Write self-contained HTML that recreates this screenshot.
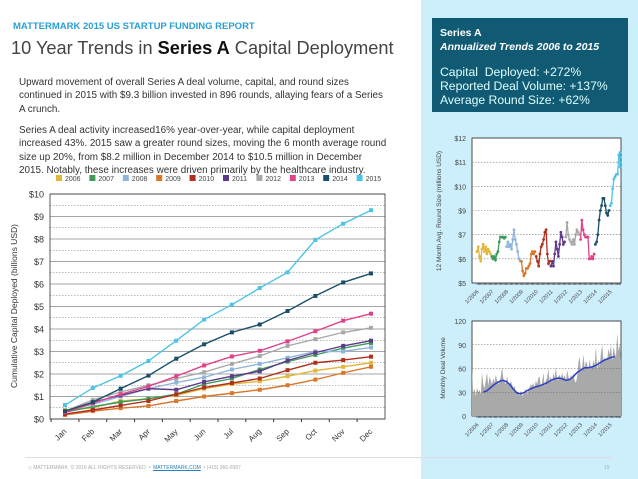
<!DOCTYPE html>
<html><head><meta charset="utf-8"><style>
*{margin:0;padding:0;box-sizing:border-box}
body{width:638px;height:479px;overflow:hidden;background:#fff;font-family:"Liberation Sans",sans-serif;position:relative}
.abs{position:absolute}
p.t{font-size:9.9px;color:#333;line-height:13.4px;white-space:nowrap}
</style></head><body>
<div class="abs" style="left:421px;top:0;width:217px;height:479px;background:#cdeffc"></div>
<div class="abs" style="left:13px;top:21px;font-size:9.5px;font-weight:bold;color:#2a9fd6">MATTERMARK 2015 US STARTUP FUNDING REPORT</div>
<div class="abs" style="left:11px;top:38px;font-size:18.2px;color:#444;white-space:nowrap">10 Year Trends in <b style="color:#111">Series A</b> Capital Deployment</div>
<div class="abs" style="left:19px;top:76px"><p class="t">Upward movement of overall Series A deal volume, capital, and round sizes<br>continued in 2015 with $9.3 billion invested in 896 rounds, allaying fears of a Series<br>A crunch.</p></div>
<div class="abs" style="left:19px;top:124px"><p class="t">Series A deal activity increased16% year-over-year, while capital deployment<br>increased 43%. 2015 saw a greater round sizes, moving the 6 month average round<br>size up 20%, from $8.2 million in December 2014 to $10.5 million in December<br>2015. Notably, these increases were driven primarily by the healthcare industry.</p></div>
<div class="abs" style="left:432px;top:18px;width:196px;height:94px;background:#115a73;color:#fff;padding:9px 8px">
<div style="font-size:10.5px;font-weight:bold">Series A</div>
<div style="font-size:10.5px;font-weight:bold;font-style:italic;margin-top:2px">Annualized Trends 2006 to 2015</div>
<div style="font-size:12.2px;line-height:14px;margin-top:12px;color:#dff">Capital&nbsp; Deployed: +272%<br>Reported Deal Volume: +137%<br>Average Round Size: +62%</div>
</div>
<svg class="abs" style="left:0;top:0" width="638" height="479" id="svg"></svg>
<div class="abs" style="left:25px;top:457px;width:588px;height:1px;background:#ddd"></div>
<div class="abs" style="left:28px;top:465px;font-size:5px;color:#aaa;white-space:nowrap">◇ MATTERMARK &nbsp;© 2016 ALL RIGHTS RESERVED &nbsp;• &nbsp;<u style="color:#2a7fc0">MATTERMARK.COM</u> &nbsp;• (415) 366-6587</div>
<div class="abs" style="left:604px;top:465px;font-size:5px;color:#aaa">19</div>
<script>
const months=['Jan','Feb','Mar','Apr','May','Jun','Jul','Aug','Sep','Oct','Nov','Dec'];
const years=['2006','2007','2008','2009','2010','2011','2012','2013','2014','2015'];
const colors=['#e2b83a','#3d9a5a','#8fb5da','#d9772b','#b0301f','#5e3a8a','#a8a8a8','#e0428a','#1a4f6a','#4dc3e6'];
const capTicks=[0,1,2,3,4,5,6,7,8,9,10];
const cap2006=[.4,.5,.8,.9,1.05,1.35,1.55,1.68,1.9,2.15,2.32,2.5];
const cap2007=[.3,.55,.75,.9,1.1,1.55,1.8,2.2,2.55,2.85,3.15,3.38];
const cap2008=[.35,.65,1.0,1.35,1.62,1.85,2.2,2.45,2.72,3.0,3.0,3.18];
const cap2009=[.18,.35,.48,.58,.8,1.0,1.15,1.3,1.5,1.75,2.05,2.32];
const cap2010=[.22,.4,.6,.8,1.1,1.4,1.6,1.8,2.17,2.5,2.62,2.77];
const cap2011=[.3,.75,1.05,1.35,1.3,1.65,1.9,2.12,2.6,2.95,3.25,3.48];
const cap2012=[.35,.85,1.2,1.5,1.8,2.08,2.45,2.8,3.25,3.55,3.85,4.05];
const cap2013=[.3,.7,1.1,1.45,1.9,2.38,2.78,3.03,3.45,3.9,4.37,4.68];
const cap2014=[.35,.75,1.35,1.93,2.68,3.32,3.85,4.2,4.8,5.47,6.07,6.47];
const cap2015=[.62,1.38,1.92,2.58,3.48,4.42,5.08,5.82,6.52,7.96,8.68,9.28];
const capSeries=[cap2006,cap2007,cap2008,cap2009,cap2010,cap2011,cap2012,cap2013,cap2014,cap2015];
const sizeTickVals=[5,6,7,8,9,10,11];
const sizeTickLabels=['$5','$6','$7','$9','$10','$11','$12'];
const size2006=[6.3,6.5,6.1,5.9,6.4,6.6,6.3,6.5,6.2,6.4,6.3,6.2];
const size2007=[6.1,6.0,6.1,5.95,6.2,6.3,6.7,6.9,6.9,6.9,6.85,6.9];
const size2008=[6.5,6.7,6.5,6.6,6.4,6.8,7.2,6.8,6.6,6.3,6.0,5.9];
const size2009=[5.9,5.5,5.3,5.4,5.6,5.6,5.7,5.8,6.2,6.3,6.2,6.3];
const size2010=[6.1,5.9,5.7,6.2,6.5,6.6,6.8,7.1,7.2,6.2,5.8,5.9];
const size2011=[5.7,5.9,5.7,6.2,6.7,6.4,6.1,6.6,7.1,6.9,6.6,6.7];
const size2012=[6.9,7.5,7.0,6.8,6.7,6.6,6.8,6.6,7.0,7.2,7.1,7.0];
const size2013=[6.8,7.6,7.2,7.0,6.9,6.9,6.9,6.0,6.0,6.1,6.0,6.2];
const size2014=[6.6,6.7,7.0,7.6,8.0,8.2,8.5,8.5,8.2,7.9,7.8,8.0];
const size2015=[8.2,8.3,8.9,9.3,9.4,9.5,9.5,10.3,10.4,10.0,10.2,9.8];
const sizeSeries=[size2006,size2007,size2008,size2009,size2010,size2011,size2012,size2013,size2014,size2015];
const volTicks=[0,30,60,90,120];
const volMonthly=[62,28,35,25,36,30,33,28,55,40,35,45, 55,38,50,45,40,48,42,52,45,40,44,50, 62,48,45,40,50,42,38,44,40,35,38,30, 30,28,26,32,25,28,30,35,27,33,36,40, 38,42,35,45,40,48,50,36,42,55,38,45, 48,60,44,50,42,55,48,62,45,50,52,48, 55,48,52,45,58,50,46,52,48,55,45,42, 50,68,75,55,62,78,60,70,65,58,72,60, 62,70,65,88,58,72,62,80,90,68,75,70, 72,85,78,90,70,88,80,75,105,82,90,70];
const volAvg=[30,32,36,40,43,45,44,40,34,29,28,30,33,35,37,38,40,42,45,47,48,47,45,46,50,55,58,61,61,62,64,67,70,72,74,75];
const NS='http://www.w3.org/2000/svg';
const svg=document.getElementById('svg');
function mk(t,a,p){const e=document.createElementNS(NS,t);for(const k in a)e.setAttribute(k,a[k]);(p||svg).appendChild(e);return e;}
// main chart
const X0=50,X1=385,Y0=419,Y1=194;
const mx=i=>65+i*(371-65)/11;
const my=v=>Y0-(v/10)*(Y0-Y1);
const g=mk('g',{});


for(let v=0.5;v<10;v+=1){const l=mk('line',{x1:X0,x2:X1,y1:my(v),y2:my(v),stroke:'#777','stroke-width':0.6,'stroke-dasharray':'1.5,1.5'},g);}
capTicks.forEach(v=>{const l=mk('line',{x1:X0,x2:X1,y1:my(v),y2:my(v),stroke:'#888','stroke-width':0.8},g);
const t=mk('text',{x:X0-6,y:my(v)+3.5,'text-anchor':'end','font-size':9,fill:'#333'},g);t.textContent='$'+v;});
mk('rect',{x:X0,y:Y1,width:X1-X0,height:Y0-Y1,fill:'none',stroke:'#333','stroke-width':0.8},g);
months.forEach((m,i)=>{mk('line',{x1:mx(i)-13.9,x2:mx(i)-13.9,y1:Y0,y2:Y0+3,stroke:'#333'},g);
const t=mk('text',{x:mx(i)+2,y:Y0+13,'text-anchor':'end','font-size':8,fill:'#333',transform:`rotate(-45 ${mx(i)+2} ${Y0+13})`},g);t.textContent=m;});
const yt=mk('text',{x:17,y:306,'text-anchor':'middle','font-size':8.5,fill:'#333',transform:'rotate(-90 17 306)'},g);yt.textContent='Cumulative Capital Deployed (billions USD)';

capSeries.forEach((s,k)=>{const pl=mk('polyline',{points:s.map((v,i)=>mx(i)+','+my(v)).join(' '),fill:'none',stroke:colors[k],'stroke-width':1.4},g);

s.forEach((v,i)=>{const r=mk('rect',{x:mx(i)-2,y:my(v)-2,width:4,height:4,fill:colors[k]},g);});});
years.forEach((y,k)=>{const lx=56+k*33.4;const r=mk('rect',{x:lx,y:175,width:6,height:6,fill:colors[k]},g);
const t=mk('text',{x:lx+9,y:181,'font-size':7,fill:'#444'},g);t.textContent=y;});
// round size chart
const A0=472,A1=621,B0=283,B1=138;
const tx=t=>Math.min(A1-1,477+(t-2006)*14.8);
const sy=v=>B0-(v-5)/6*(B0-B1);
const g2=mk('g',{});


mk('rect',{x:A0,y:B1,width:A1-A0,height:B0-B1,fill:'#fff',stroke:'#222','stroke-width':0.8},g2);
sizeTickVals.forEach((v,i)=>{if(i>0&&i<6)mk('line',{x1:A0,x2:A1,y1:sy(v),y2:sy(v),stroke:'#777','stroke-width':0.6,'stroke-dasharray':'1.5,1.5'},g2);
const t=mk('text',{x:A0-6,y:sy(v)+3,'text-anchor':'end','font-size':7,fill:'#444'},g2);t.textContent=sizeTickLabels[i];});
for(let m=0;m<=118;m++)mk('line',{x1:tx(2006+m/12),x2:tx(2006+m/12),y1:B0,y2:B0+2,stroke:'#333','stroke-width':0.5},g2);
years.forEach((y,k)=>{const x=tx(2006+k);const t=mk('text',{x:x+2,y:B0+9,'text-anchor':'end','font-size':5.5,fill:'#444',transform:`rotate(-45 ${x+2} ${B0+9})`},g2);t.textContent='1/'+y;});
const st=mk('text',{x:441,y:211,'text-anchor':'middle','font-size':6.5,fill:'#444',transform:'rotate(-90 441 211)'},g2);st.textContent='12 Month Avg. Round Size (millions USD)';

sizeSeries.forEach((s,k)=>{const pts=s.map((v,i)=>tx(2006+k+i/12)+','+sy(v));const pl=mk('polyline',{points:pts.join(' '),fill:'none',stroke:colors[k],'stroke-width':1.3},g2);

s.forEach((v,i)=>{const c=mk('circle',{cx:tx(2006+k+i/12),cy:sy(v),r:1.4,fill:colors[k]},g2);});});
// volume chart
const C0=321,C1=416;
const vx=t=>A0+(t-2006)*(A1-A0)/(119/12);
const vy=v=>C1-v/120*(C1-C0);
const g3=mk('g',{});


mk('rect',{x:A0,y:C0,width:A1-A0,height:C1-C0,fill:'#fff',stroke:'#222','stroke-width':0.8},g3);
const area='M'+vx(2006)+','+C1+' '+volMonthly.map((v,i)=>'L'+vx(2006+i/12)+','+vy(v)).join(' ')+' L'+vx(2006+119/12)+','+C1+'Z';
const ar=mk('path',{d:area,fill:'#a9a9a9'},g3);


volTicks.forEach((v,i)=>{if(i>0&&i<4)mk('line',{x1:A0,x2:A1,y1:vy(v),y2:vy(v),stroke:'#666','stroke-width':0.6,'stroke-dasharray':'1.5,1.5'},g3);
const t=mk('text',{x:A0-6,y:vy(v)+3,'text-anchor':'end','font-size':7,fill:'#444'},g3);t.textContent=v;});
const av=mk('polyline',{points:volAvg.map((v,i)=>vx(2006.75+i*0.25)+','+vy(v)).join(' '),fill:'none',stroke:'#2b40c8','stroke-width':1.5},g3);


for(let m=0;m<=118;m++)mk('line',{x1:tx(2006+m/12),x2:tx(2006+m/12),y1:C1,y2:C1+2,stroke:'#333','stroke-width':0.5},g3);
years.forEach((y,k)=>{const x=tx(2006+k);const t=mk('text',{x:x+2,y:C1+9,'text-anchor':'end','font-size':5.5,fill:'#444',transform:`rotate(-45 ${x+2} ${C1+9})`},g3);t.textContent='1/'+y;});
const vt=mk('text',{x:445,y:368,'text-anchor':'middle','font-size':6.5,fill:'#444',transform:'rotate(-90 445 368)'},g3);vt.textContent='Monthly Deal Volume';

</script>
</body></html>
